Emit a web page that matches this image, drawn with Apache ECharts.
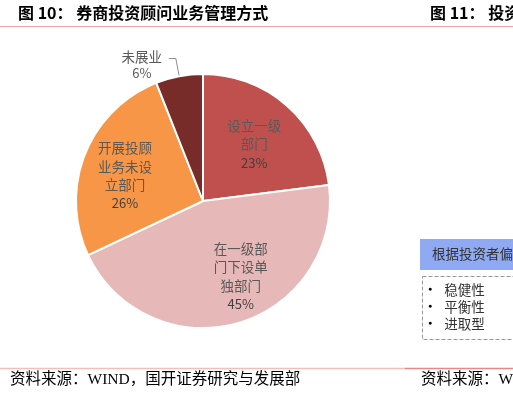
<!DOCTYPE html>
<html><head><meta charset="utf-8">
<script src="https://cdn.jsdelivr.net/npm/echarts@6/dist/echarts.min.js"></script>
<style>html,body{margin:0;padding:0;background:#fff}#c{width:513px;height:396px}</style>
</head><body><div id="c"></div>
<script>
const categories = ['设立一级部门', '在一级部门下设单独部门', '开展投顾业务未设立部门', '未展业'];
const labelText = ['设立一级\n部门', '在一级部\n门下设单\n独部门', '开展投顾\n业务未设\n立部门', '未展业'];
const values = [23, 45, 26, 6];
const colors = ['#C0504D', '#E6B9B8', '#F79646', '#772C2A'];
const bullets = ['稳健性', '平衡性', '进取型'];

// small label nudges (style only, not data)
const labelNudge = [[-5, 7], [14, -6], [1, 6], [0, 0]];

const cjk = '"Noto Sans CJK SC", "Noto Sans", sans-serif';
const serif = '"Liberation Serif", "Noto Sans CJK SC", serif';

const chart = echarts.init(document.getElementById('c'), null, {renderer: 'canvas'});

const mainData = categories.map((n, i) => ({
  name: n, value: values[i],
  itemStyle: {color: colors[i]},
  label: {show: i === 3},
  labelLine: {show: i === 3}
}));
const overlayData = categories.map((n, i) => ({
  name: n, value: values[i],
  label: {show: i !== 3}
}));

chart.setOption({
  animation: false,
  graphic: [
    {type: 'text', left: 18, top: 5, style: {text: '图 10： 券商投资顾问业务管理方式', font: 'bold 16px ' + cjk, fill: '#000'}},
    {type: 'text', left: 430, top: 5, style: {text: '图 11： 投资顾问', font: 'bold 16px ' + cjk, fill: '#000'}},
    {type: 'line', shape: {x1: 0, y1: 26.5, x2: 513, y2: 26.5}, style: {stroke: '#E8A3A3', lineWidth: 1.2}},
    {type: 'line', shape: {x1: 0, y1: 368.5, x2: 405, y2: 368.5}, style: {stroke: '#F2BDBD', lineWidth: 1.5}},
    {type: 'line', shape: {x1: 405, y1: 368.5, x2: 513, y2: 368.5}, style: {stroke: '#E58888', lineWidth: 1.5}},
    {type: 'text', left: 10, top: 372, style: {text: '资料来源：WIND，国开证券研究与发展部', font: '15.5px ' + serif, fill: '#000'}},
    {type: 'text', left: 421, top: 372, style: {text: '资料来源：WIND', font: '15.5px ' + serif, fill: '#000'}},
    {type: 'rect', shape: {x: 420, y: 239, width: 100, height: 31}, style: {fill: '#8FA9F3'}},
    {type: 'text', left: 432, top: 247, style: {text: '根据投资者偏好', font: '13.5px ' + cjk, fill: '#333'}},
    {type: 'rect', shape: {x: 422.5, y: 276.5, width: 100, height: 63}, style: {fill: 'none', stroke: '#999', lineWidth: 1, lineDash: [4, 2]}},
    ...bullets.map((b, i) => ({type: 'text', left: 428, top: 283 + i * 17, style: {text: '{d|●}' + b, font: '13.5px ' + cjk, fill: '#333', rich: {d: {fontSize: 7, fill: '#000', padding: [0, 12, 2, 0]}}}}))
  ],
  series: [
    {
      type: 'pie',
      center: [203, 201],
      radius: [0, 127],
      startAngle: 90,
      clockwise: true,
      avoidLabelOverlap: false,
      silent: true,
      itemStyle: {borderColor: '#fff', borderWidth: 2},
      label: {
        position: 'outside',
        padding: [12, 0, 0, 0],
        formatter: p => '{a|' + labelText[p.dataIndex] + '}\n{b|' + p.value + '%}',
        rich: {
          a: {fontFamily: cjk, fontSize: 13.5, color: '#595959', width: 44, align: 'center', lineHeight: 16},
          b: {fontFamily: cjk, fontSize: 13, color: '#595959', width: 44, align: 'center', lineHeight: 16}
        }
      },
      labelLine: {length: 18, length2: 7, lineStyle: {color: '#8C8C8C', width: 1}, smooth: false},
      data: mainData
    },
    {
      type: 'pie',
      center: [203, 201],
      radius: [0, 164],
      startAngle: 90,
      clockwise: true,
      silent: true,
      z: 5,
      itemStyle: {color: 'rgba(0,0,0,0)', borderWidth: 0},
      label: {
        position: 'inside',
        formatter: p => labelText[p.dataIndex].split('\n').map(s => '{a|' + s + '}').join('\n') + '\n{b|' + p.value + '%}',
        rich: {
          a: {fontFamily: cjk, fontSize: 13.5, color: '#595959', lineHeight: 18.5},
          b: {fontFamily: cjk, fontSize: 13, color: '#404040', lineHeight: 18.5}
        }
      },
      labelLayout: p => ({dx: labelNudge[p.dataIndex][0], dy: labelNudge[p.dataIndex][1]}),
      labelLine: {show: false},
      data: overlayData
    }
  ]
});
</script></body></html>
